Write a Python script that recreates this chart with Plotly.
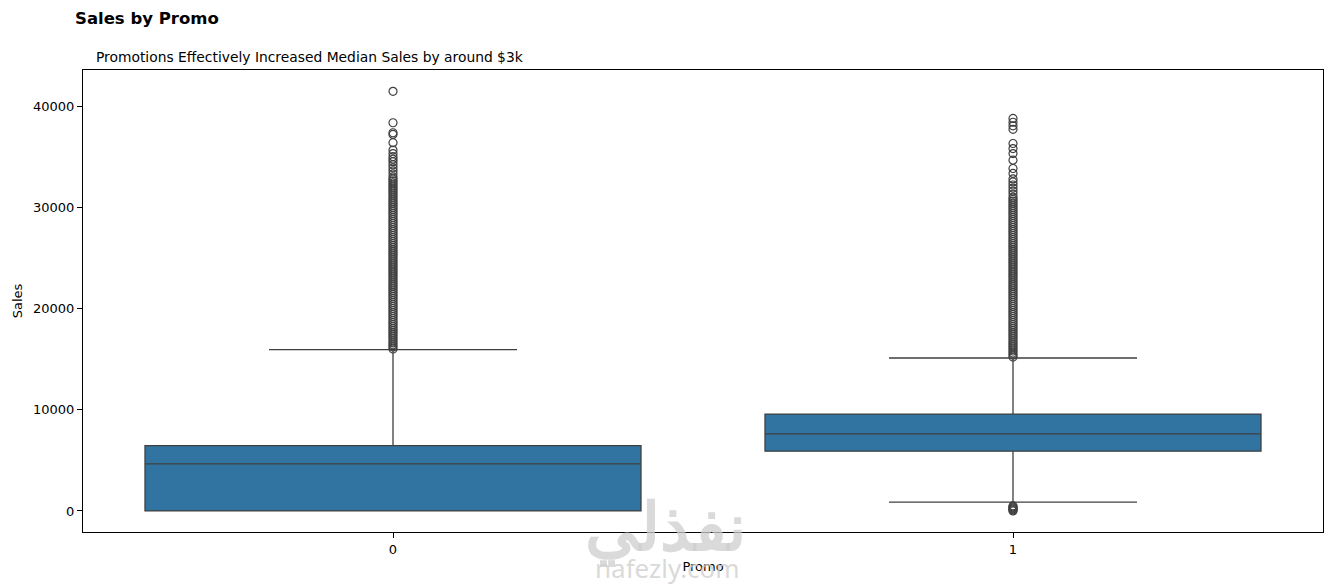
import plotly.graph_objects as go

# ---- data ----
promo = [0, 1]
promo_labels = ["0", "1"]
q1 = [0, 5900]
median = [4650, 7620]
q3 = [6450, 9570]
lower_fence = [0, 880]
upper_fence = [15940, 15110]

outliers_promo0 = [
    41450, 38350, 37360, 37200, 36380, 35650, 35300, 35000, 34750, 34500,
    34200, 33900, 33600, 33300, 33000, 32800, 32600, 32400, 32200, 32000,
    31800, 31600, 31400, 31200, 31000, 30800, 30600, 30400, 30200, 30000,
    29800, 29600, 29400, 29200, 29000, 28800, 28600, 28400, 28200, 28000,
    27800, 27600, 27400, 27200, 27000, 26800, 26600, 26400, 26200, 26000,
    25800, 25600, 25400, 25200, 25000, 24800, 24600, 24400, 24200, 24000,
    23800, 23600, 23400, 23200, 23000, 22800, 22600, 22400, 22200, 22000,
    21800, 21600, 21400, 21200, 21000, 20800, 20600, 20400, 20200, 20000,
    19800, 19600, 19400, 19200, 19000, 18800, 18600, 18400, 18200, 18000,
    17800, 17600, 17400, 17200, 17000, 16800, 16600, 16400, 16200, 16000,
]
outliers_promo1 = [
    38780, 38400, 38050, 37700, 36300, 35800, 35300, 34650, 33830, 33340,
    32800, 32500, 32200, 31900, 31600, 31300, 31000, 30800, 30600, 30400,
    30200, 30000, 29800, 29600, 29400, 29200, 29000, 28800, 28600, 28400,
    28200, 28000, 27800, 27600, 27400, 27200, 27000, 26800, 26600, 26400,
    26200, 26000, 25800, 25600, 25400, 25200, 25000, 24800, 24600, 24400,
    24200, 24000, 23800, 23600, 23400, 23200, 23000, 22800, 22600, 22400,
    22200, 22000, 21800, 21600, 21400, 21200, 21000, 20800, 20600, 20400,
    20200, 20000, 19800, 19600, 19400, 19200, 19000, 18800, 18600, 18400,
    18200, 18000, 17800, 17600, 17400, 17200, 17000, 16800, 16600, 16400,
    16200, 16000, 15800, 15600, 15400, 15200,
    500, 400, 300, 200, 100, 0,
]
y_ticks = [0, 10000, 20000, 30000, 40000]

BOX_COLOR = "#3274a1"
LINE_COLOR = "#3f3f3f"
FONT = "DejaVu Sans"

# plot-area geometry in pixels (used only to place text)
L, R, T, B = 83, 1323, 70, 532
PW, PH = R - L, B - T

fig = go.Figure()

fig.add_trace(go.Box(
    x=promo,
    q1=q1, median=median, q3=q3,
    lowerfence=lower_fence, upperfence=upper_fence,
    width=0.8,
    whiskerwidth=0.5,
    fillcolor=BOX_COLOR,
    line=dict(color=LINE_COLOR, width=1.3),
    boxpoints=False,
    showlegend=False,
    hoverinfo="skip",
))

for xv, vals in zip(promo, [outliers_promo0, outliers_promo1]):
    fig.add_trace(go.Scatter(
        x=[xv] * len(vals), y=vals,
        mode="markers",
        marker=dict(symbol="circle-open", size=8, color=LINE_COLOR,
                    line=dict(width=1.2, color=LINE_COLOR)),
        showlegend=False,
    ))

axis_common = dict(
    showline=True, linecolor="black", linewidth=1.1, mirror=True,
    ticks="outside", ticklen=5, tickwidth=1, tickcolor="black",
    showgrid=False, zeroline=False, automargin=False,
    tickfont=dict(family=FONT, size=13, color="black"),
)

fig.update_xaxes(
    range=[-0.5, 1.5], tickvals=promo, ticktext=promo_labels,
    title=dict(text="Promo", font=dict(family=FONT, size=13, color="black"), standoff=6),
    **axis_common,
)
fig.update_yaxes(
    range=[-2080, 43560], tickvals=y_ticks, ticktext=[str(v) for v in y_ticks],
    title=dict(text="Sales", font=dict(family=FONT, size=13, color="black"), standoff=7),
    **axis_common,
)

fig.update_layout(
    width=1333, height=585,
    margin=dict(l=L, r=1333 - R, t=T, b=585 - B),
    paper_bgcolor="white", plot_bgcolor="white",
    font=dict(family=FONT, color="black"),
    title=dict(
        text="<b>Sales by Promo</b>",
        font=dict(family=FONT, size=16.5, color="black"),
        x=75 / 1333, xanchor="left", xref="container",
        y=1 - 18 / 585, yanchor="middle", yref="container",
    ),
    annotations=[
        dict(text="<b>نفذلي</b>", xref="paper", yref="paper",
             x=(665 - L) / PW, y=(B - 524) / PH,
             xanchor="center", yanchor="middle", showarrow=False,
             font=dict(family="Noto Sans", size=66, color="rgba(205,205,205,0.75)")),
        dict(text="nafezly.com", xref="paper", yref="paper",
             x=(667 - L) / PW, y=(B - 568) / PH,
             xanchor="center", yanchor="middle", showarrow=False,
             font=dict(family="Noto Sans", size=26, color="rgba(205,205,205,0.75)")),
        dict(text="Promotions Effectively Increased Median Sales by around $3k",
             xref="paper", yref="paper", x=(94 - L) / PW, y=(B - 57) / PH,
             xanchor="left", yanchor="middle", showarrow=False,
             font=dict(family=FONT, size=13.85, color="black")),
    ],
)

fig.write_html("out.html", config={"displayModeBar": False},
               post_script="document.body.style.margin='0px';")
